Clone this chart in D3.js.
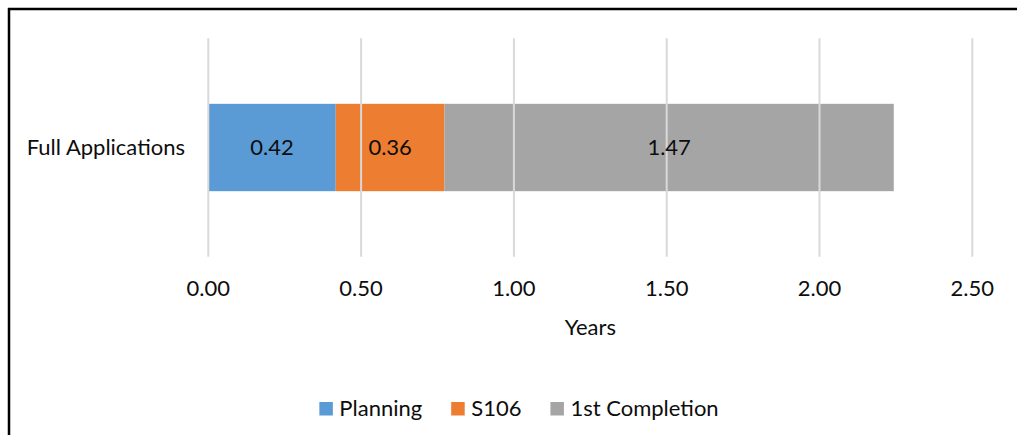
<!DOCTYPE html>
<html><head><meta charset="utf-8">
<script src="https://cdn.jsdelivr.net/npm/d3@7"></script>
<style>
html,body{margin:0;padding:0;background:#fff;}
svg{display:block;font-family:Lato,"Open Sans",sans-serif;}
</style></head>
<body><svg id="c" width="1017" height="435"></svg>
<script>
const categories = ["Full Applications"];
const seriesNames = ["Planning", "S106", "1st Completion"];
const seriesColors = ["#5B9BD5", "#ED7D31", "#A5A5A5"];
const planning = [0.417];
const s106 = [0.356];
const completion = [1.47];
const xTicks = [0, 0.5, 1.0, 1.5, 2.0, 2.5];
const xTitle = "Years";

const seriesValues = [planning, s106, completion];
const svg = d3.select("#c");
const fs = 22;

// frame (left and top)
svg.append("line").attr("x1",9).attr("x2",9).attr("y1",8).attr("y2",435).attr("stroke","#000").attr("stroke-width",2.5);
svg.append("line").attr("x1",8).attr("x2",1017).attr("y1",9).attr("y2",9).attr("stroke","#000").attr("stroke-width",2.5);

const x = d3.scaleLinear().domain([0, 2.5]).range([208.3, 972.3]);
const y = d3.scaleBand().domain(categories).range([38.3, 256.7]).paddingInner(0.4286).paddingOuter(0.4286);

// stacked data
const table = categories.map((c, i) => {
  const o = {cat: c};
  seriesNames.forEach((s, j) => o[s] = seriesValues[j][i]);
  return o;
});
const stacked = d3.stack().keys(seriesNames)(table);

const g = svg.append("g");
stacked.forEach((layer, j) => {
  g.selectAll(null).data(layer).enter().append("rect")
    .attr("x", d => x(d[0]))
    .attr("width", d => x(d[1]) - x(d[0]))
    .attr("y", d => y(d.data.cat))
    .attr("height", y.bandwidth())
    .attr("fill", seriesColors[j]);
});

// gridlines (drawn over bars like reference)
g.selectAll(".grid").data(xTicks).enter().append("line")
  .attr("x1", d => x(d)).attr("x2", d => x(d))
  .attr("y1", 38.3).attr("y2", 256.7)
  .attr("stroke", "#D9D9D9").attr("stroke-width", 2);

// data labels
stacked.forEach((layer, j) => {
  g.selectAll(null).data(layer).enter().append("text")
    .attr("x", d => (x(d[0]) + x(d[1])) / 2)
    .attr("y", d => y(d.data.cat) + y.bandwidth() / 2)
    .attr("dy", "0.35em")
    .attr("text-anchor", "middle")
    .attr("font-size", fs).attr("fill", "#0d0d0d")
    .text(d => d3.format(".2f")(d[1] - d[0]));
});

// category axis labels
g.selectAll(".cat").data(categories).enter().append("text")
  .attr("x", 185).attr("y", d => y(d) + y.bandwidth()/2).attr("dy","0.35em")
  .attr("text-anchor","end").attr("font-size", fs).attr("fill","#0d0d0d").text(d => d);

// x tick labels
g.selectAll(".tick").data(xTicks).enter().append("text")
  .attr("x", d => x(d)).attr("y", 295.5)
  .attr("text-anchor","middle").attr("font-size", fs).attr("fill","#0d0d0d")
  .text(d => d3.format(".2f")(d));

// axis title
svg.append("text").attr("x", (x.range()[0] + x.range()[1]) / 2).attr("y", 335)
  .attr("text-anchor","middle").attr("font-size", fs).attr("fill","#0d0d0d").text(xTitle);

// legend
const leg = svg.append("g");
let cx = 0;
seriesNames.forEach((s, j) => {
  const it = leg.append("g");
  it.append("rect").attr("x", 0).attr("y", 402).attr("width", 13.5).attr("height", 13.5).attr("fill", seriesColors[j]);
  const t = it.append("text").attr("x", 20).attr("y", 416).attr("font-size", fs).attr("fill","#0d0d0d").text(s);
  const w = 20 + t.node().getComputedTextLength();
  it.attr("transform", `translate(${cx},0)`);
  cx += w + 29;
});
const totalW = cx - 29;
leg.attr("transform", `translate(${519 - totalW/2},0)`);
</script></body></html>
